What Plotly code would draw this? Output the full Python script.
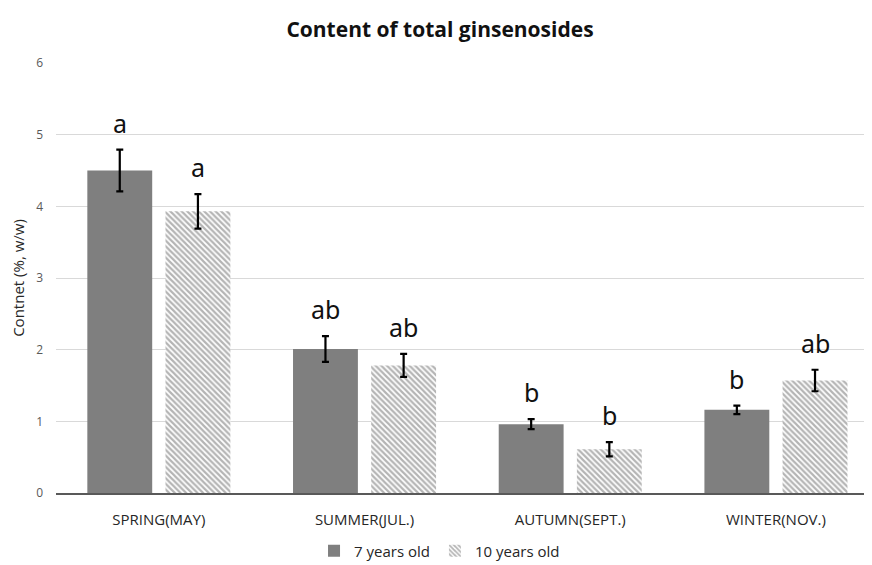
import plotly.graph_objects as go

categories = ["SPRING(MAY)", "SUMMER(JUL.)", "AUTUMN(SEPT.)", "WINTER(NOV.)"]
series_names = ["7 years old", "10 years old"]
values_7 = [4.50, 2.01, 0.96, 1.16]
errors_7 = [0.29, 0.18, 0.07, 0.06]
values_10 = [3.93, 1.78, 0.61, 1.57]
errors_10 = [0.24, 0.16, 0.10, 0.15]
letters_7 = ["a", "ab", "b", "b"]
letters_10 = ["a", "ab", "b", "ab"]
y_ticks = [0, 1, 2, 3, 4, 5, 6]

xs = list(range(len(categories)))
BARGAP = 0.24
BARGROUPGAP = 0.17
slot = (1 - BARGAP) / 2
off = slot / 2

# page body has an 8px margin, so the figure is sized to fill the rest of the window
W, H = 864, 557
T, L, B = 55, 48, 72
plot_h = H - T - B

fig = go.Figure()
fig.add_trace(go.Bar(
    x=xs, y=values_7, name=series_names[0],
    marker=dict(color="#7f7f7f", line=dict(width=0)),
    error_y=dict(type="data", array=errors_7, color="#000000", thickness=2.2, width=3.5),
))
fig.add_trace(go.Bar(
    x=xs, y=values_10, name=series_names[1],
    marker=dict(color="#ffffff", line=dict(width=0),
                pattern=dict(shape="\\", fgcolor="#6a6a6a", bgcolor="#ffffff", size=4, solidity=0.55)),
    error_y=dict(type="data", array=errors_10, color="#000000", thickness=2.2, width=3.5),
))

for i in xs:
    fig.add_annotation(x=i - off, y=values_7[i] + errors_7[i], text=letters_7[i],
                       showarrow=False, yanchor="bottom", yshift=8,
                       font=dict(family="Noto Sans", size=25, color="#111111"))
    fig.add_annotation(x=i + off, y=values_10[i] + errors_10[i], text=letters_10[i],
                       showarrow=False, yanchor="bottom", yshift=8,
                       font=dict(family="Noto Sans", size=25, color="#111111"))

fig.update_layout(
    width=W, height=H,
    margin=dict(l=L, r=0, t=T, b=B, autoexpand=False),
    paper_bgcolor="white", plot_bgcolor="white",
    barmode="group", bargap=BARGAP, bargroupgap=BARGROUPGAP,
    title=dict(text="<b>Content of total ginsenosides</b>", x=0.5, xanchor="center",
               y=1 - 22 / H, yanchor="middle",
               font=dict(family="Open Sans", size=21, color="#111111")),
    font=dict(family="Open Sans"),
    xaxis=dict(range=[-0.5, 3.467], tickvals=xs, ticktext=categories, automargin=False,
               showgrid=False, showline=True, linecolor="#595959", linewidth=2,
               ticks="", ticklabelstandoff=12,
               tickfont=dict(family="Open Sans", size=15, color="#262626"), zeroline=False),
    yaxis=dict(range=[0, 6], tickvals=y_ticks, showgrid=True, gridcolor="#d9d9d9", gridwidth=1,
               automargin=False,
               zeroline=False, showline=False, ticks="", ticklabelstandoff=12,
               tickfont=dict(family="Open Sans", size=12, color="#595959"),
               title=dict(text="Contnet (%, w/w)", standoff=8,
                          font=dict(family="Open Sans", size=15, color="#262626"))),
    legend=dict(orientation="h", x=0.47, xanchor="center", y=-58 / plot_h, yanchor="middle",
                font=dict(family="Open Sans", size=15, color="#262626"),
                itemwidth=30, tracegroupgap=0),
    showlegend=True,
)

fig.write_html("out.html")
